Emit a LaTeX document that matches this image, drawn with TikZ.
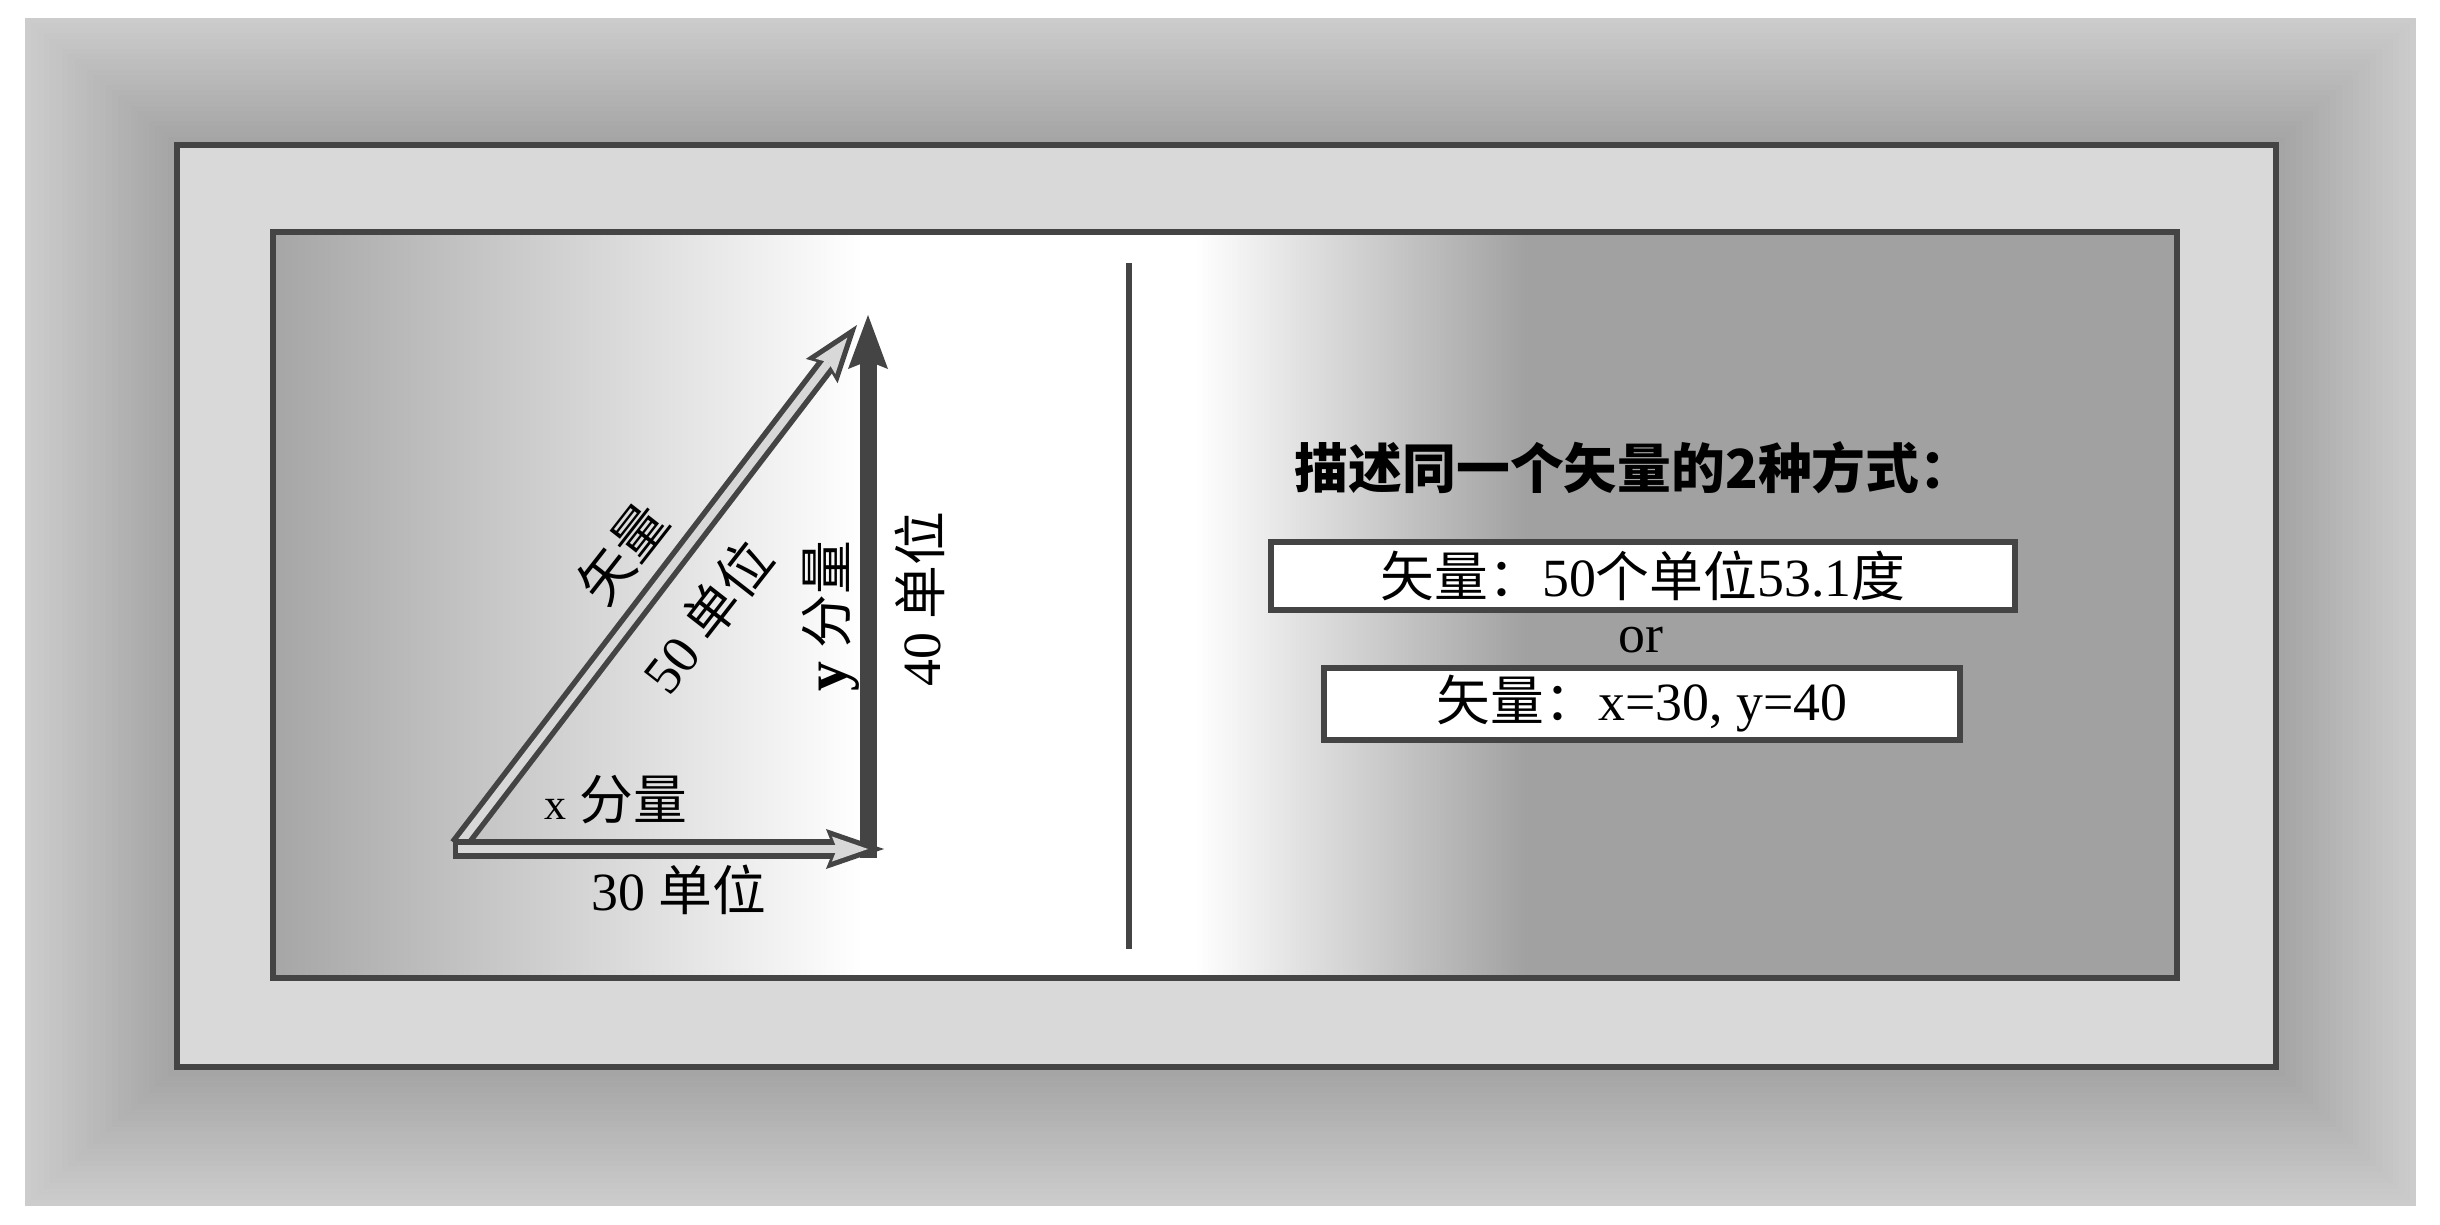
\documentclass[tikz,border=0pt]{standalone}
\usepackage{fontspec}
\setmainfont{Liberation Serif}
\newfontfamily\zhfont{Noto Sans CJK SC}
\newcommand{\zh}[1]{{\zhfont #1}}
\usetikzlibrary{arrows.meta}
\definecolor{darkline}{HTML}{444444}
\definecolor{vecfill}{HTML}{D8D8D8}
\tikzset{
x=0.01cm, y=-0.01cm, % one unit is one pixel of the reference, y runs downwards
lbl/.style={inner sep=0pt, font=\fontsize{15.3}{18}\selectfont}, % labels of the triangle
vecout/.style={darkline, line width=0.19cm, -{Stealth[length=0.58cm, width=0.40cm, inset=0.08cm, line width=0pt]}},
vecin/.style={vecfill, line width=0.08cm, shorten <=0.05cm, shorten >=0.16cm, -{Stealth[length=0.36cm, width=0.25cm, inset=0.05cm, line width=0pt]}},
vecsolid/.style={darkline, line width=0.17cm, -{Stealth[length=0.54cm, width=0.40cm, inset=0.08cm, line width=0pt]}},
waybox/.style={draw=darkline, line width=0.06cm, fill=white, inner sep=0pt, font=\fontsize{15.3}{18}\selectfont},
}

\begin{document}
\begin{tikzpicture}
\useasboundingbox (0,0) rectangle (2440,1225);
% grey surround, darker towards the frame
\foreach \i in {0,...,24}{
  \pgfmathsetmacro{\fr}{\i/24}
  \pgfmathsetmacro{\gv}{20+16*\fr}
  \fill[black!\gv] ({25+149*\fr},{18+124*\fr}) rectangle ({2416-137*\fr},{1206-136*\fr});
}
\draw[line width=0.06cm, darkline, fill=black!15] (177,145) rectangle (2276,1067);
% panel shading
\shade[left color=black!35, right color=white] (273,232) rectangle (863,978);
\fill[white] (863,232) rectangle (1195,978);
\shade[left color=white, right color=black!37] (1195,232) rectangle (1527,978);
\fill[black!37] (1527,232) rectangle (2177,978);
\draw[line width=0.06cm, darkline] (273,232) rectangle (2177,978);

\coordinate (O) at (453,849);
\coordinate (X) at (884,849);
\coordinate (Yb) at (868,858);
\coordinate (Yt) at (868,315);
\coordinate (Hb) at (458,846);
\coordinate (Ht) at (857,325);
\coordinate (Dt) at (1129,263);
\coordinate (Db) at (1129,949);

\draw[vecsolid] (Yb) -- (Yt);
\draw[vecout] (Hb) -- (Ht);
\draw[vecin] (Hb) -- (Ht);
\draw[vecout] (O) -- (X);
\draw[vecin] (O) -- (X);
\draw[line width=0.06cm, darkline] (Dt) -- (Db);

\node[lbl, rotate=52] at (622,553) (vec) {\zh{矢量}};
\node[lbl, rotate=52] at (707,616) (vecunits) {50 \zh{单位}};
\node[lbl, rotate=90] at (831,616) (ycomp) {{\fontsize{17}{18}\selectfont\textbf{y}} \zh{分量}};
\node[lbl, rotate=90] at (920,599) (yunits) {40 \zh{单位}};
\node[lbl] at (616,800) (xcomp) {{\fontsize{12.5}{13}\selectfont x} \zh{分量}};
\node[lbl] at (679,890) (xunits) {30 \zh{单位}};

\node[lbl] at (1634,468) (title) {\zhfont\bfseries 描述同一个矢量的2种方式：};
\node[waybox, minimum width=7.43cm, minimum height=0.67cm] at (1643,576) (polar) {\zh{矢量：}50\zh{个单位}53.1\zh{度}};
\node[lbl] at (1641,640) (or) {or};
\node[waybox, minimum width=6.35cm, minimum height=0.71cm] at (1642,704) (cart) {\zh{矢量：}x=30, y=40};
\end{tikzpicture}
\end{document}
